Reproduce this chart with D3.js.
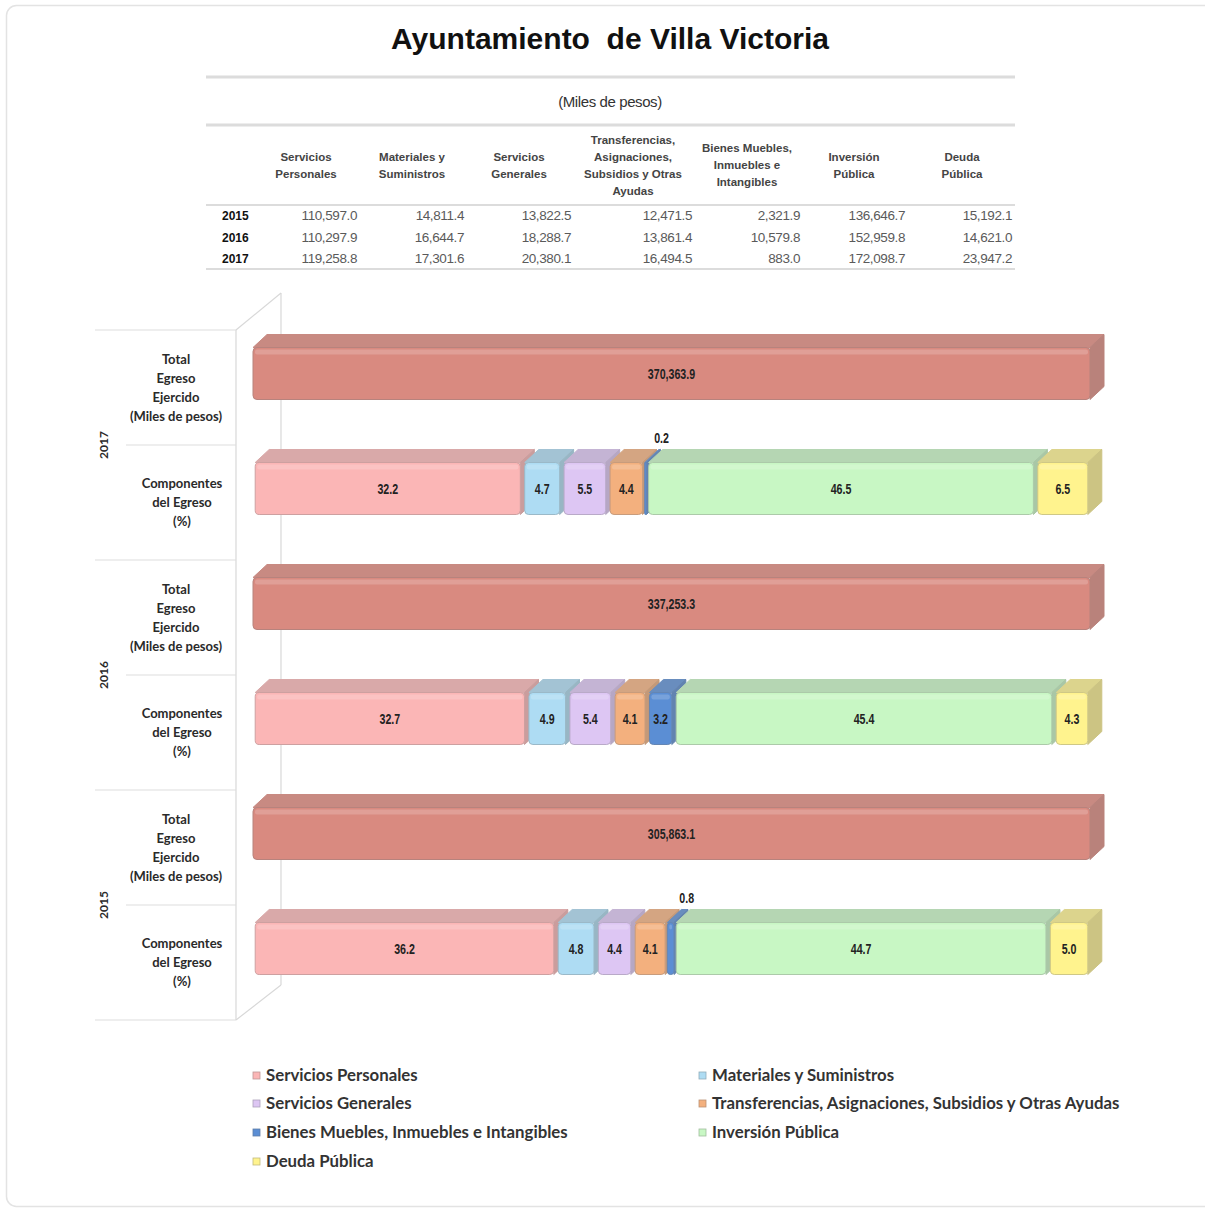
<!DOCTYPE html>
<html><head><meta charset="utf-8">
<script src="https://cdn.jsdelivr.net/npm/d3@7"></script>
<style>body{margin:0;background:#fff}svg{display:block}</style>
</head><body>
<svg id="c" width="1205" height="1209"></svg>
<script>
// ---------- DATA ----------
const years = ["2015", "2016", "2017"];
const categories = ["Servicios Personales", "Materiales y Suministros", "Servicios Generales",
  "Transferencias, Asignaciones, Subsidios y Otras Ayudas", "Bienes Muebles, Inmuebles e Intangibles",
  "Inversión Pública", "Deuda Pública"];
const headerLines = [["Servicios","Personales"],["Materiales y","Suministros"],["Servicios","Generales"],
  ["Transferencias,","Asignaciones,","Subsidios y Otras","Ayudas"],["Bienes Muebles,","Inmuebles e","Intangibles"],
  ["Inversión","Pública"],["Deuda","Pública"]];
const table2015 = [110597.0, 14811.4, 13822.5, 12471.5, 2321.9, 136646.7, 15192.1];
const table2016 = [110297.9, 16644.7, 18288.7, 13861.4, 10579.8, 152959.8, 14621.0];
const table2017 = [119258.8, 17301.6, 20380.1, 16494.5, 883.0, 172098.7, 23947.2];
const totals = {"2015": 305863.1, "2016": 337253.3, "2017": 370363.9};
const pct2015 = [36.2, 4.8, 4.4, 4.1, 0.8, 44.7, 5.0];
const pct2016 = [32.7, 4.9, 5.4, 4.1, 3.2, 45.4, 4.3];
const pct2017 = [32.2, 4.7, 5.5, 4.4, 0.2, 46.5, 6.5];
const colors = ["#fbb6b6", "#aedcf3", "#ddc6f3", "#f3b07e", "#5b8ed4", "#c8f7c4", "#fff38e"];
const totalColor = "#d98a80";
const rowKeys = ["2017|total","2017|comp","2016|total","2016|comp","2015|total","2015|comp"];

const tableByYear = {"2015": table2015, "2016": table2016, "2017": table2017};
const pctByYear = {"2015": pct2015, "2016": pct2016, "2017": pct2017};

const svg = d3.select("#c");
const fmt = d3.format(",.1f");
const arial = "Liberation Sans, Arial, sans-serif";

// frame
svg.append("rect").attr("x",6.5).attr("y",5.5).attr("width",1210).attr("height",1201)
  .attr("rx",10).attr("fill","#fff").attr("stroke","#e3e3e3").attr("stroke-width",1.5);

// title
svg.append("text").attr("x",610).attr("y",49).attr("text-anchor","middle")
  .attr("font-family",arial).attr("font-weight","bold")
  .attr("font-size",30).attr("fill","#111").style("white-space","pre")
  .text("Ayuntamiento  de Villa Victoria");

// ---------- TABLE ----------
const tbl = svg.append("g");
[[77,3],[125,3],[205,2],[269,2]].forEach(([y,w])=>{
  tbl.append("line").attr("x1",206).attr("x2",1015).attr("y1",y).attr("y2",y)
    .attr("stroke","#dcdcdc").attr("stroke-width",w);
});
tbl.append("text").attr("x",610).attr("y",107).attr("text-anchor","middle")
  .attr("font-family",arial).attr("font-size",15).attr("letter-spacing","-0.4")
  .attr("fill","#333").text("(Miles de pesos)");

const colCenters = [306, 412, 519, 633, 747, 854, 962];
const colRight = [357, 464, 571, 692, 800, 905, 1012];
categories.forEach((c,i)=>{
  const lines = headerLines[i];
  const y0 = 165 - (lines.length-1)*17/2 + 4;
  const t = tbl.append("text").attr("text-anchor","middle")
    .attr("font-family",arial).attr("font-size",11.5)
    .attr("font-weight","bold").attr("fill","#444");
  lines.forEach((l,j)=>t.append("tspan").attr("x",colCenters[i]).attr("y",y0+j*17).text(l));
});
const rowY = d3.scalePoint().domain(years).range([220, 263]);
years.forEach(y=>{
  tbl.append("text").attr("x",222).attr("y",rowY(y))
    .attr("font-family",arial).attr("font-size",12)
    .attr("font-weight","bold").attr("fill","#111").text(y);
  tableByYear[y].forEach((v,i)=>{
    tbl.append("text").attr("x",colRight[i]).attr("y",rowY(y)).attr("text-anchor","end")
      .attr("font-family",arial).attr("font-size",13.5)
      .attr("fill","#5a5a5a").attr("letter-spacing","-0.4").text(fmt(v));
  });
});

// ---------- CHART ----------
const band = d3.scaleBand().domain(rowKeys).range([330, 1020]);
const x0 = 253, x1 = 1090, DX = 14, DY = 13;
const g = svg.append("g");

// walls
const wall = g.append("g").attr("stroke","#d8d8d8").attr("stroke-width",1.2).attr("fill","none");
wall.append("line").attr("x1",236).attr("y1",330).attr("x2",236).attr("y2",1020);
wall.append("line").attr("x1",236).attr("y1",330).attr("x2",281).attr("y2",293);
wall.append("line").attr("x1",281).attr("y1",293).attr("x2",281).attr("y2",985);
wall.append("line").attr("x1",236).attr("y1",1020).attr("x2",281).attr("y2",985);

// separators & labels
rowKeys.forEach(k=>{
  const isTotal = k.endsWith("total");
  g.append("line").attr("x1", isTotal ? 95 : 126).attr("x2",236)
    .attr("y1",band(k)).attr("y2",band(k)).attr("stroke","#dedede").attr("stroke-width",1.2);
});
g.append("line").attr("x1",95).attr("x2",236).attr("y1",1020).attr("y2",1020)
  .attr("stroke","#dedede").attr("stroke-width",1.2);

const lblFont = "Lato, Carlito, Calibri, sans-serif";
rowKeys.forEach(k=>{
  const isTotal = k.endsWith("total");
  const lines = isTotal ? ["Total","Egreso","Ejercido","(Miles de pesos)"] : ["Componentes","del Egreso","(%)"];
  const cx = isTotal ? 176 : 182;
  const cy = band(k) + band.bandwidth()/2;
  const t = g.append("text").attr("text-anchor","middle").attr("font-family",lblFont)
    .attr("font-size",13).attr("font-weight","bold").attr("fill","#2a2a2a");
  lines.forEach((l,j)=>t.append("tspan").attr("x",cx)
    .attr("y", cy - (lines.length-1)*19/2 + 4.5 + j*19).text(l));
});
years.forEach(y=>{
  const cy = band(y+"|comp");
  g.append("text").attr("transform",`translate(108,${cy}) rotate(-90)`).attr("text-anchor","middle")
    .attr("font-family",lblFont).attr("font-size",12).attr("font-weight","bold").attr("fill","#2a2a2a").text(y);
});

function box(parent, xa, xb, yt, h, color, topMix, sideMix){
  const top = d3.interpolateRgb(color, "#8a8a8a")(topMix);
  const side = d3.interpolateRgb(color, "#6e6e6e")(sideMix);
  const w = Math.max(xb - xa, 0.8);
  parent.append("path").attr("d",
    `M${xa},${yt} L${xa+DX},${yt-DY} L${xa+w+DX},${yt-DY} L${xa+w},${yt} Z`)
    .attr("fill", top).attr("stroke", top).attr("stroke-width",1).attr("stroke-linejoin","round");
  parent.append("path").attr("d",
    `M${xa+w},${yt} L${xa+w+DX},${yt-DY} L${xa+w+DX},${yt+h-DY} L${xa+w},${yt+h} Z`)
    .attr("fill", side).attr("stroke", side).attr("stroke-width",1).attr("stroke-linejoin","round");
  parent.append("rect").attr("x",xa).attr("y",yt).attr("width",w).attr("height",h)
    .attr("rx", Math.min(4, w/2)).attr("fill", color)
    .attr("stroke", d3.interpolateRgb(color,"#777")(0.35)).attr("stroke-width",1);
  parent.append("rect").attr("x",xa+2).attr("y",yt+2).attr("width",Math.max(w-4,0)).attr("height",5)
    .attr("rx",2).attr("fill","#fff").attr("opacity",0.18);
}

function valLabel(parent, x, y, txt){
  parent.append("text").attr("transform",`translate(${x},${y}) scale(0.76,1.1)`)
    .attr("text-anchor","middle").attr("font-family",arial).attr("font-size",14)
    .attr("font-weight","bold").attr("fill","#222").text(txt);
}

years.forEach(y=>{
  const kt = y+"|total";
  const xs = d3.scaleLinear().domain([0, totals[y]]).range([x0, x1]);
  const yt = band(kt) + 17.5, h = 52;
  box(g, xs(0), xs(totals[y]), yt, h, totalColor, 0.22, 0.3);
  valLabel(g, (xs(0)+xs(totals[y]))/2, yt+h/2+5, fmt(totals[y]));
  const kc = y+"|comp";
  const xp = d3.scaleLinear().domain([0,100]).range([x0, x1]);
  const yc = band(kc) + 17.5;
  let acc = 0;
  pctByYear[y].forEach((p,i)=>{
    const a = xp(acc), b = xp(acc+p);
    const gap = p < 1 ? 0 : 2.2;
    box(g, a+gap, b-gap, yc, h, colors[i], 0.3, 0.35);
    const small = p < 1;
    valLabel(g, small ? (a+b)/2 + DX + 2 : (a+b)/2, small ? yc - DY - 7 : yc+h/2+5, d3.format(".1f")(p));
    acc += p;
  });
});

// ---------- LEGEND ----------
const legX = [256, 702], legY = [1075, 1103, 1132, 1161];
categories.forEach((c,i)=>{
  const lx = legX[i%2], ly = legY[Math.floor(i/2)];
  const lg = svg.append("g");
  lg.append("rect").attr("x",lx-3).attr("y",ly-3).attr("width",7).attr("height",7)
    .attr("fill",colors[i]).attr("stroke",d3.interpolateRgb(colors[i],"#666")(0.4)).attr("stroke-width",0.8);
  lg.append("text").attr("x",lx+10).attr("y",ly+5.5).attr("font-family",lblFont)
    .attr("font-size",16.8).attr("font-weight","bold").attr("fill","#333").text(c);
});
</script>
</body></html>
